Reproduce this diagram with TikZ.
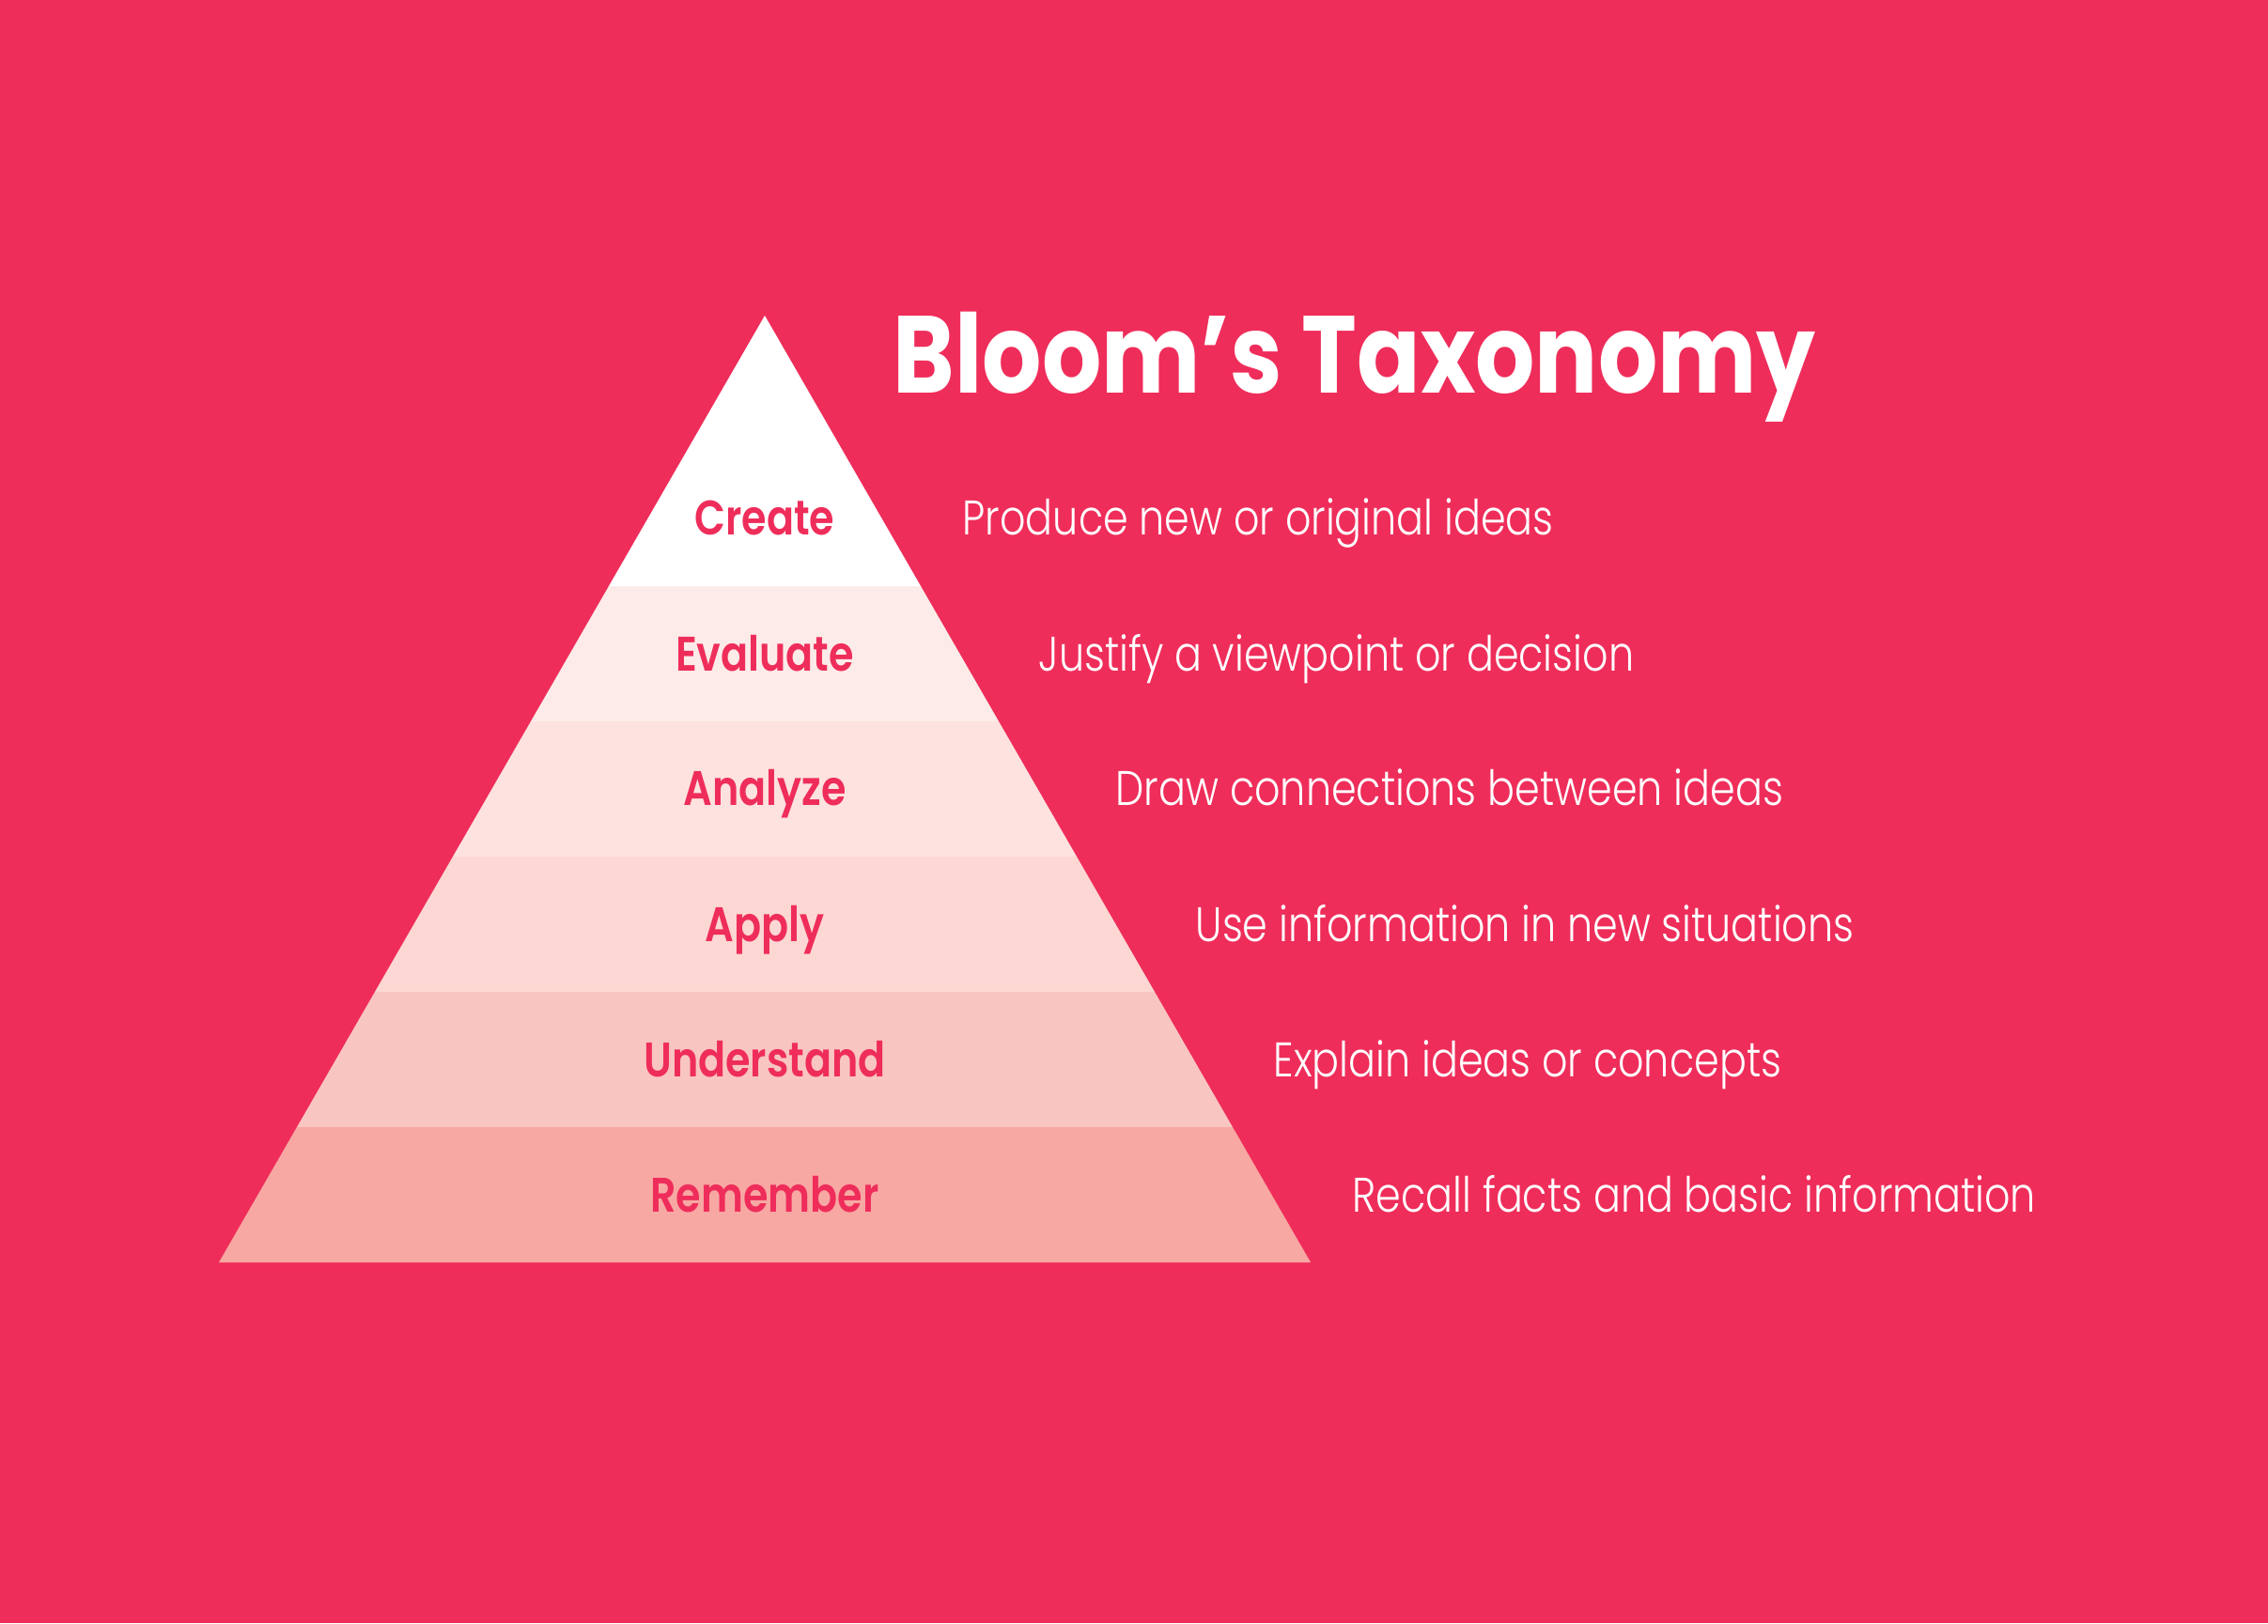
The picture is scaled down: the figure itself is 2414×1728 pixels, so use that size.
\documentclass[tikz,border=0pt]{standalone}
\usepackage{fontspec}
\setmainfont{Poppins}
\newfontfamily\lightfont{Poppins Light}[FakeStretch=0.83]
\newfontfamily\boldfont{Poppins SemiBold}[FakeStretch=0.83]
\newfontfamily\titlefont{Poppins Bold}[FakeStretch=0.853]
\definecolor{bg}{HTML}{EF2D5A}
\definecolor{layerA}{HTML}{FFFFFF}
\definecolor{layerB}{HTML}{FCEBE9}
\definecolor{layerC}{HTML}{FDE2DF}
\definecolor{layerD}{HTML}{FCD7D3}
\definecolor{layerE}{HTML}{F9C5C0}
\definecolor{layerF}{HTML}{F7A8A3}
\tikzset{
  lvl/.style={anchor=base, text=bg, inner sep=0pt, font=\boldfont\fontsize{15.5}{18}\selectfont},
  desc/.style={anchor=base west, text=white, inner sep=0pt, font=\lightfont\fontsize{15.5}{18}\selectfont},
  ttl/.style={anchor=base west, text=white, inner sep=0pt, font=\titlefont\fontsize{35}{40}\selectfont}
}
\begin{document}
\begin{tikzpicture}[x=0.3pt,y=-0.3pt]
\useasboundingbox (0,0) rectangle (2414,1728);
\fill[bg] (0,0) rectangle (2414,1728);
% pyramid geometry: apex (814,336), base (233,1344)-(1395,1344)
\coordinate (apex) at (814,336);
\coordinate (bl) at (233,1344);
\coordinate (br) at (1395,1344);
\foreach \top/\bot/\col in {624/768/layerB,768/912/layerC,912/1056/layerD,1056/1200/layerE,1200/1344/layerF}{
  \fill[\col] ({814-0.5764*(\top-336)},\top) -- ({814+0.5764*(\top-336)},\top)
     -- ({814+0.5764*(\bot-336)},\bot) -- ({814-0.5764*(\bot-336)},\bot) -- cycle;
}
\fill[layerA] (apex) -- ({814+0.5764*288},624) -- ({814-0.5764*288},624) -- cycle;
\node[ttl] (title) at (950,418) {Bloom’s Taxonomy};
\node[lvl] (create) at (814,569) {Create};
\node[lvl] (evaluate) at (814,714) {Evaluate};
\node[lvl] (analyze) at (814,857) {Analyze};
\node[lvl] (apply) at (814,1002) {Apply};
\node[lvl] (understand) at (814,1146) {Understand};
\node[lvl] (remember) at (814,1290) {Remember};
\node[desc] (dcreate) at (1024,569) {Produce new or original ideas};
\node[desc] (devaluate) at (1105,714) {Justify a viewpoint or decision};
\node[desc] (danalyze) at (1187,857) {Draw connections between ideas};
\node[desc] (dapply) at (1272,1002) {Use information in new situations};
\node[desc] (dunderstand) at (1355,1146) {Explain ideas or concepts};
\node[desc] (dremember) at (1439,1290) {Recall facts and basic information};
\end{tikzpicture}
\end{document}
